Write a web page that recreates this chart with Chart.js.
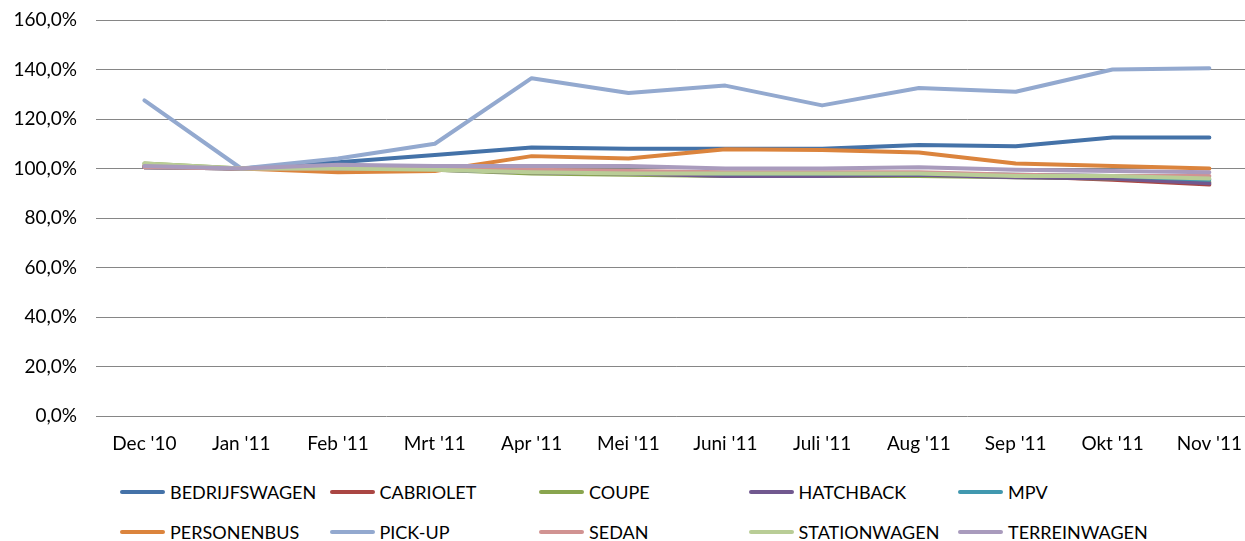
<!DOCTYPE html>
<html>
<head>
<meta charset="utf-8">
<script src="https://cdn.jsdelivr.net/npm/chart.js@4/dist/chart.umd.min.js"></script>
<style>
  html,body{margin:0;padding:0;background:#fff;overflow:hidden;width:1245px;height:541px;}
  #wrap{position:relative;width:1245px;height:541px;overflow:hidden;}
  #c{position:absolute;left:0;top:0;}
  .lg{position:absolute;display:flex;align-items:center;font-family:Lato, "Liberation Sans", sans-serif;font-size:18px;color:#000;white-space:nowrap;}
  .lg span.s{display:inline-block;width:45px;height:4px;border-radius:2px;margin-right:5px;}
</style>
</head>
<body>
<div id="wrap">
  <canvas id="c" width="1258" height="460" style="width:1258px;height:460px"></canvas>
  <div id="legend"></div>
</div>
<script>
const months = ["Dec '10","Jan '11","Feb '11","Mrt '11","Apr '11","Mei '11","Juni '11","Juli '11","Aug '11","Sep '11","Okt '11","Nov '11"];
const seriesNames = ["BEDRIJFSWAGEN","CABRIOLET","COUPE","HATCHBACK","MPV","PERSONENBUS","PICK-UP","SEDAN","STATIONWAGEN","TERREINWAGEN"];
const bedrijfswagen = [101, 100, 102.5, 105.5, 108.5, 108, 108, 108, 109.5, 109, 112.5, 112.5];
const cabriolet     = [100.5, 100, 100, 99.5, 99, 98.5, 98, 98, 98, 97, 95.5, 93.5];
const coupe         = [102, 100, 99.5, 99.5, 98, 97.5, 97, 97, 97, 96.5, 96, 94.5];
const hatchback     = [100.5, 100, 99.5, 99.5, 98.5, 98, 97, 97, 97.5, 96.5, 96, 94];
const mpv           = [100.5, 100, 99.5, 99.5, 99, 98.5, 98, 98, 98, 97.5, 97, 95.5];
const personenbus   = [101, 100, 98.5, 99, 105, 104, 107.8, 107.5, 106.5, 102, 101, 100];
const pickup        = [127.5, 100, 104, 110, 136.5, 130.5, 133.5, 125.5, 132.5, 131, 140, 140.5];
const sedan         = [100.5, 100, 100, 100, 99.5, 99, 98.5, 98.5, 98.5, 97.5, 97, 97];
const stationwagen  = [102, 100, 100, 99.5, 98.5, 98, 98, 98, 98, 97, 97, 96];
const terreinwagen  = [101, 100, 101.5, 101, 101, 101, 100, 100, 100.5, 99.5, 99, 98.5];
const yTicks = [0, 20, 40, 60, 80, 100, 120, 140, 160];

const values = [bedrijfswagen, cabriolet, coupe, hatchback, mpv, personenbus, pickup, sedan, stationwagen, terreinwagen];
const colors = ["#4472A8","#AA4643","#89A54E","#71588F","#4198AF","#DB843D","#93A9CF","#D19392","#B9CD96","#A99BBD"];
const FONT = 'Lato, "Liberation Sans", sans-serif';

const datasets = seriesNames.map((n,i)=>({
  label:n, data:values[i], borderColor:colors[i], backgroundColor:colors[i],
  borderWidth:4, pointRadius:0, tension:0, fill:false, order: seriesNames.length - i,
  borderCapStyle:'round', borderJoinStyle:'round'
}));

let xHeight = 44;
let padTop = 20;
const chart = new Chart(document.getElementById('c'), {
  type:'line',
  data:{labels:months, datasets},
  options:{
    responsive:false, animation:false, devicePixelRatio:1,
    layout:{padding:{left:0,right:0,top:padTop,bottom:0}},
    plugins:{legend:{display:false}, tooltip:{enabled:false}},
    scales:{
      x:{
        offset:true,
        grid:{display:false, drawTicks:false, offset:true},
        border:{display:false},
        ticks:{font:{family:FONT,size:19},color:'#000',padding:16,maxRotation:0,autoSkip:false},
        afterFit:(s)=>{s.height=xHeight;}
      },
      y:{
        min:0,max:160,
        afterBuildTicks:(s)=>{s.ticks=yTicks.map(v=>({value:v}));},
        grid:{color:'#868686',lineWidth:1,drawTicks:true,tickLength:19,tickColor:'rgba(0,0,0,0)'},
        border:{display:false},
        ticks:{font:{family:FONT,size:19},color:'#000',padding:0,
          callback:(v)=>v.toFixed(1).replace('.',',')+'%'},
        afterFit:(s)=>{s.width=96;}
      }
    }
  }
});

// align the plot area with the reference frame: top gridline at y=20, baseline at y=416
for (let k=0;k<4;k++){
  const a = chart.chartArea;
  const dTop = 20 - a.top, dBot = a.bottom - 416;
  if (Math.abs(dTop) < 0.5 && Math.abs(dBot) < 0.5) break;
  padTop = Math.max(0, padTop + dTop);
  xHeight += dBot;
  chart.config.options.layout.padding = {left:0,right:0,top:padTop,bottom:0};
  chart.update();
}

// HTML legend in a grid of 5 columns, built from the chart's datasets
const lg = document.getElementById('legend');
chart.data.datasets.forEach((d,i)=>{
  const col = i%5, row = Math.floor(i/5);
  const el = document.createElement('div');
  el.className='lg';
  el.style.left = (120 + col*209.5) + 'px';
  el.style.top = (row===0 ? 482 : 522) + 'px';
  el.style.height='20px';
  el.innerHTML = '<span class="s" style="background:'+d.borderColor+'"></span>'+d.label;
  lg.appendChild(el);
});
</script>
</body>
</html>
